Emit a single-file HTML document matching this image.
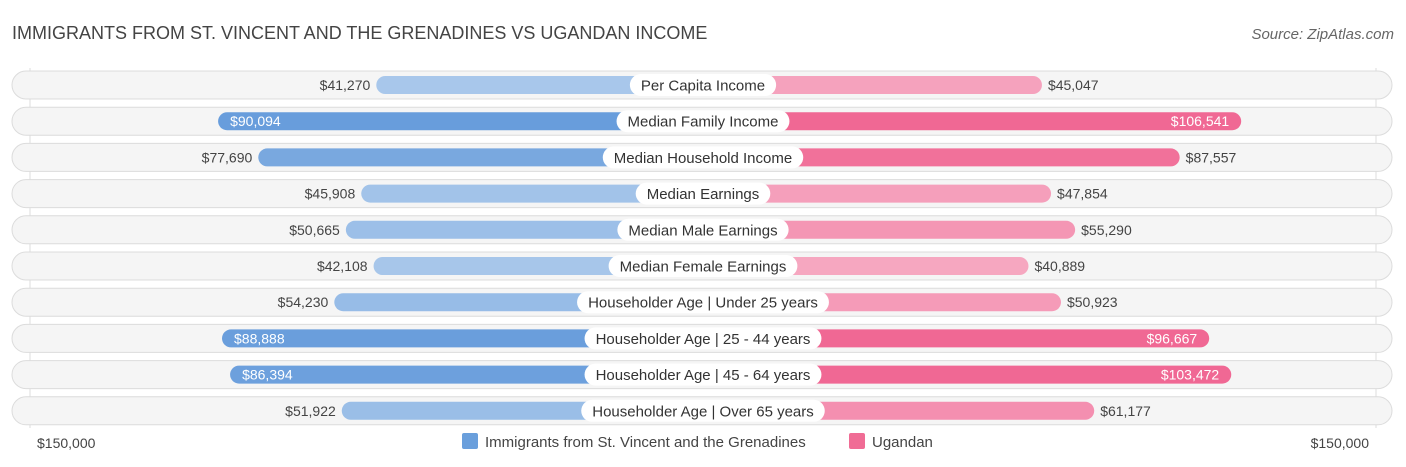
<!DOCTYPE html>
<html><head><meta charset="utf-8"><style>
body{margin:0;background:#fff;font-family:"Liberation Sans",sans-serif;}
svg{display:block}
</style></head><body>
<svg id="c" width="1406" height="467" xmlns="http://www.w3.org/2000/svg">
<text x="12" y="39" font-size="18" fill="#444">IMMIGRANTS FROM ST. VINCENT AND THE GRENADINES VS UGANDAN INCOME</text>
<text x="1394" y="39" font-size="15" fill="#666" font-style="italic" text-anchor="end">Source: ZipAtlas.com</text>
<line x1="30" y1="68" x2="30" y2="428" stroke="#ddd"/>
<line x1="1376" y1="68" x2="1376" y2="428" stroke="#ddd"/>
<g id="rows"></g>
<text x="37" y="448" font-size="14" fill="#444">$150,000</text>
<text x="1369" y="448" font-size="14" fill="#444" text-anchor="end">$150,000</text>
<rect x="462" y="433" width="16" height="16" rx="2" fill="#6a9fdc"/>
<text x="485" y="447" font-size="15" fill="#444">Immigrants from St. Vincent and the Grenadines</text>
<rect x="849" y="433" width="16" height="16" rx="2" fill="#f06c95"/>
<text x="872" y="447" font-size="15" fill="#444">Ugandan</text>
</svg>
<script>
const categories=["Per Capita Income","Median Family Income","Median Household Income","Median Earnings","Median Male Earnings","Median Female Earnings","Householder Age | Under 25 years","Householder Age | 25 - 44 years","Householder Age | 45 - 64 years","Householder Age | Over 65 years"];
const immigrantValues=[41270,90094,77690,45908,50665,42108,54230,88888,86394,51922];
const ugandanValues=[45047,106541,87557,47854,55290,40889,50923,96667,103472,61177];
const NS="http://www.w3.org/2000/svg";
const cx=703, base=193, k=0.00324, y0=85, pitch=36.2;
function xLen(v){return base+v*k;}
function mix(a,b,t){return a.map((x,i)=>Math.round(x+(b[i]-x)*t));}
function col(light,dark,v){const t=Math.max(0,Math.min(1,(v-40000)/55000));const c=mix(light,dark,t);return `rgb(${c[0]},${c[1]},${c[2]})`;}
function fmt(v){return "$"+v.toLocaleString("en-US");}
const g=document.getElementById("rows");
function mk(tag,attrs,parent){const e=document.createElementNS(NS,tag);for(const a in attrs)e.setAttribute(a,attrs[a]);parent.appendChild(e);return e;}
categories.forEach((cat,i)=>{
  const y=y0+i*pitch;
  const row=mk("g",{},g);
  
  
  const bg=mk("rect",{x:12,y:y-14,width:1380,height:28,rx:14,fill:"#f5f5f5",stroke:"#dcdcdc","stroke-width":1},row);
  
  
  const lv=immigrantValues[i], rv=ugandanValues[i];
  const lw=xLen(lv), rw=xLen(rv);
  const lb=mk("rect",{x:cx-lw,y:y-9,width:lw,height:18,rx:9,fill:col([170,200,235],[98,153,218],lv)},row);
  
  
  const rb=mk("rect",{x:cx,y:y-9,width:rw,height:18,rx:9,fill:col([246,168,193],[240,104,148],rv)},row);
  
  
  const lin=lv>80000, rin=rv>90000;
  const lt=mk("text",{x:lin?cx-lw+12:cx-lw-6,y:y+5,"font-size":14,fill:lin?"#fff":"#444","text-anchor":lin?"start":"end"},row);
  lt.textContent=fmt(lv);
  
  
  const rt=mk("text",{x:rin?cx+rw-12:cx+rw+6,y:y+5,"font-size":14,fill:rin?"#fff":"#444","text-anchor":rin?"end":"start"},row);
  rt.textContent=fmt(rv);
  
  
  const lbl=mk("text",{x:cx,y:y+5.5,"font-size":15,fill:"#333","text-anchor":"middle"},row);
  lbl.textContent=cat;
  const w=lbl.getComputedTextLength()+22;
  const pill=mk("rect",{x:cx-w/2,y:y-11,width:w,height:22,rx:11,fill:"#fff"},row);
  
  
  row.appendChild(lbl);
  
  
});
</script>
</body></html>
